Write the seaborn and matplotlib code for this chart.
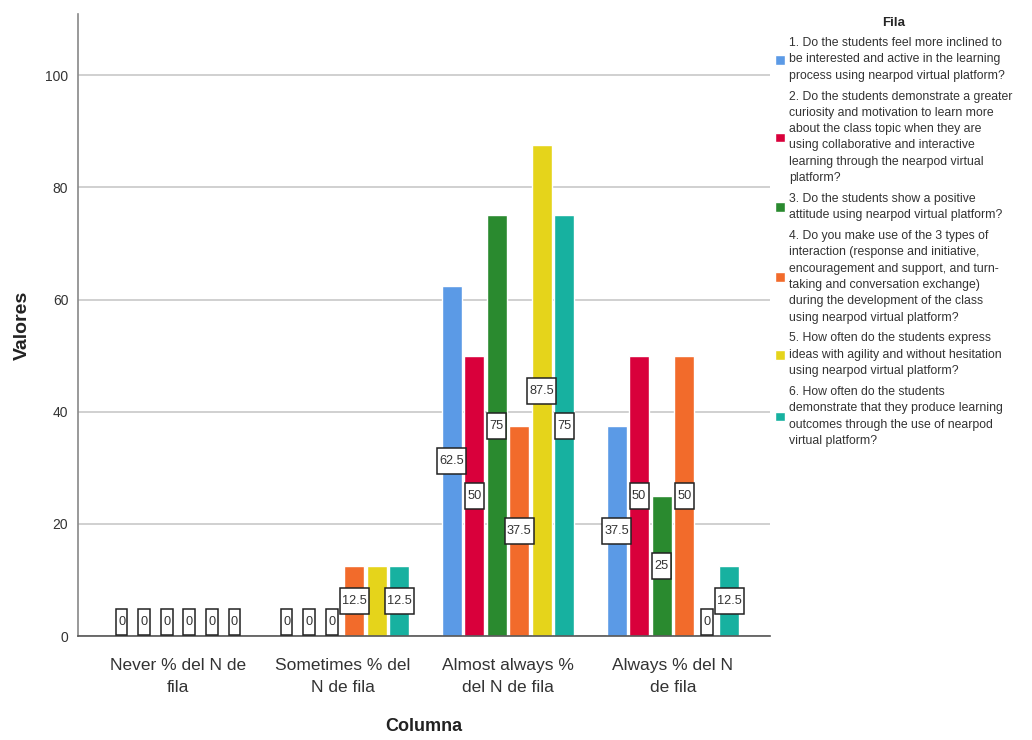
import matplotlib
matplotlib.use("Agg")
import matplotlib.pyplot as plt
from matplotlib.path import Path
import seaborn as sns
import pandas as pd
import numpy as np

categories = ["Never % del N de\nfila", "Sometimes % del\nN de fila",
              "Almost always %\ndel N de fila", "Always % del N\nde fila"]
questions = [
    "1. Do the students feel more inclined to\nbe interested and active in the learning\nprocess using nearpod virtual platform?",
    "2. Do the students demonstrate a greater\ncuriosity and motivation to learn more\nabout the class topic when they are\nusing collaborative and interactive\nlearning through the nearpod virtual\nplatform?",
    "3. Do the students show a positive\nattitude using nearpod virtual platform?",
    "4. Do you make use of the 3 types of\ninteraction (response and initiative,\nencouragement and support, and turn-\ntaking and conversation exchange)\nduring the development of the class\nusing nearpod virtual platform?",
    "5. How often do the students express\nideas with agility and without hesitation\nusing nearpod virtual platform?",
    "6. How often do the students\ndemonstrate that they produce learning\noutcomes through the use of nearpod\nvirtual platform?",
]
q1 = [0, 0, 62.5, 37.5]
q2 = [0, 0, 50, 50]
q3 = [0, 0, 75, 25]
q4 = [0, 12.5, 37.5, 50]
q5 = [0, 12.5, 87.5, 0]
q6 = [0, 12.5, 75, 12.5]
colors = ["#5b9ae6", "#d9003b", "#2a8a2f", "#f26b2b", "#e5d41b", "#17b1a0"]

series = [q1, q2, q3, q4, q5, q6]
rows = []
for q, vals in zip(questions, series):
    for c, v in zip(categories, vals):
        rows.append({"Columna": c, "Fila": q, "Valores": v})
df = pd.DataFrame(rows)

sns.set_theme(style="white")
fam = ["Liberation Sans", "DejaVu Sans"]
plt.rcParams["font.family"] = fam

fig = plt.figure(figsize=(10.32, 7.40), dpi=100)
ax = fig.add_axes([0.0756, 0.1405, 0.6705, 0.8405])

sns.barplot(data=df, x="Columna", y="Valores", hue="Fila", order=categories,
            hue_order=questions, palette=colors, width=0.82, gap=0.12,
            saturation=1, ax=ax, legend=True, errorbar=None)

ax.set_ylim(0, 110.9)
ax.set_xlim(-0.606, 3.588)
ax.set_yticks([0, 20, 40, 60, 80, 100])
ax.yaxis.grid(True, color="#c8c8c8", linewidth=1.2)
ax.set_axisbelow(True)
for s in ["top", "right"]:
    ax.spines[s].set_visible(False)
ax.spines["left"].set_color("#888888")
ax.spines["bottom"].set_color("#555555")
ax.spines["left"].set_linewidth(1.2)
ax.spines["bottom"].set_linewidth(1.2)
ax.tick_params(axis="y", labelsize=10, colors="#333333", length=0, pad=7)
ax.tick_params(axis="x", labelsize=12.5, colors="#333333", length=0, pad=16)
for t in ax.get_xticklabels():
    t.set_linespacing(1.55)

ax.set_ylabel("Valores", fontsize=14, fontweight="bold", labelpad=10, color="#222222")
ax.set_xlabel("Columna", fontsize=13, fontweight="bold", labelpad=17, color="#222222")


def tallbox(x0, y0, width, height, mutation_size):
    px = 0.18 * mutation_size
    py = 0.55 * mutation_size
    x0, y0 = x0 - px, y0 - py
    x1, y1 = x0 + width + 2 * px, y0 + height + 2 * py
    return Path([(x0, y0), (x1, y0), (x1, y1), (x0, y1), (x0, y0)],
                closed=True)


renderer = fig.canvas.get_renderer()
kept = []
for cont in ax.containers:
    for p in cont:
        h = p.get_height()
        xc = p.get_x() + p.get_width() / 2
        yc = max(h / 2, 2.5)
        t = ax.text(xc, yc, f"{h:g}", ha="center", va="center", fontsize=9.2,
                    color="#333333", zorder=5,
                    bbox=dict(boxstyle=tallbox, fc="white", ec="#222222", lw=1.1))
        bb = t.get_window_extent(renderer).expanded(1.2, 2.0)
        if any(bb.overlaps(k) for k in kept):
            t.remove()
        else:
            kept.append(bb)

handles, labels = ax.get_legend_handles_labels()
ax.legend_.remove()
leg = fig.legend(handles, labels, title="Fila", loc="upper left",
                 bbox_to_anchor=(0.746, 0.984), frameon=False, fontsize=8.8,
                 title_fontproperties={"size": 9.5, "weight": "bold"},
                 handlelength=0.85, handleheight=0.85, handletextpad=0.3,
                 labelspacing=0.72, borderaxespad=0)
leg._legend_box.sep = 6
for t in leg.get_texts():
    t.set_color("#333333")
    t.set_linespacing(1.48)

fig.savefig("out.png", dpi=100, facecolor="white")
